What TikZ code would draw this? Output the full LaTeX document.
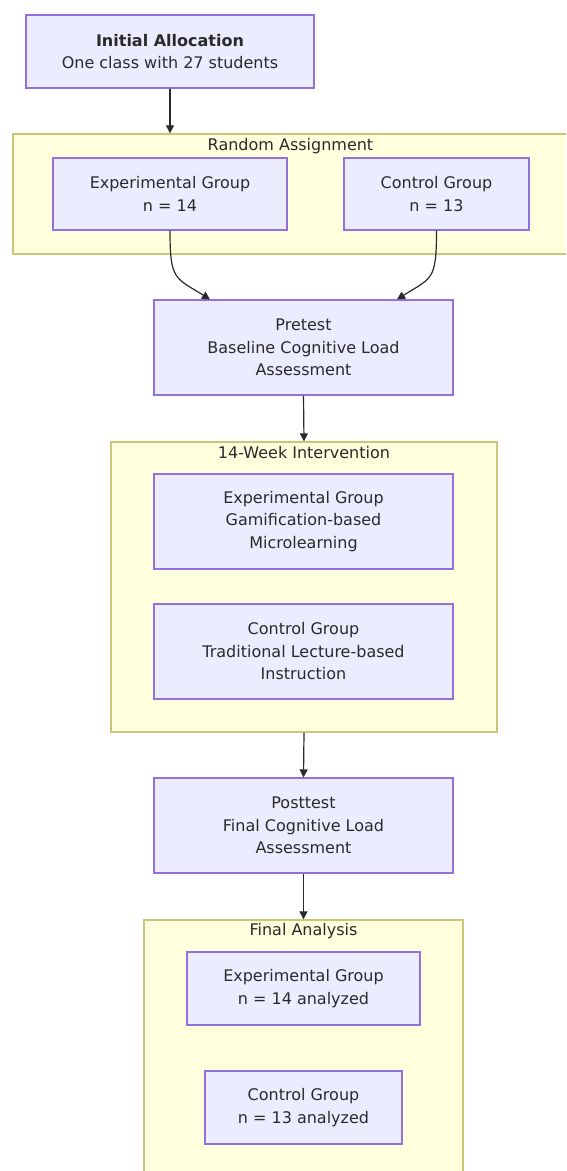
\documentclass[tikz,border=0pt]{standalone}
\usepackage{fontspec}
\setmainfont{DejaVu Sans}
\usetikzlibrary{arrows.meta}
\definecolor{boxfill}{HTML}{ECECFF}
\definecolor{boxline}{HTML}{9370DB}
\definecolor{grpfill}{HTML}{FFFFDE}
\definecolor{grpline}{HTML}{C8C878}
\definecolor{ink}{HTML}{2A2A2A}
\tikzset{
  stepbox/.style={draw=boxline, fill=boxfill, line width=1.2pt, align=center,
    text=ink, font=\fontsize{16}{22.5}\selectfont, inner sep=0pt},
  grp/.style={draw=grpline, fill=grpfill, line width=1.4pt, inner sep=0pt},
  grptitle/.style={text=ink, font=\fontsize{16}{20}\selectfont, inner sep=0pt},
  flow/.style={draw=ink, line width=1.2pt, -{Triangle[length=8pt,width=8pt]}}
}
\begin{document}
\begin{tikzpicture}[x=1pt,y=-1pt]
            \clip (0,0) rectangle (566,1171);
            \fill[white] (0,0) rectangle (566,1171);
            % groups
            \node[grp, minimum width=555pt, minimum height=120pt] (ra) at (290.5,194) {};
            \node[grptitle] (raT) at (290.5,146) {Random Assignment};
            \node[grp, minimum width=386pt, minimum height=290pt] (iv) at (304,587) {};
            \node[grptitle] (ivT) at (304,453) {14-Week Intervention};
            \node[grp, minimum width=319pt, minimum height=270pt] (fa) at (303.5,1055) {};
            \node[grptitle] (faT) at (303.5,931) {Final Analysis};
            % boxes
            \node[stepbox, minimum width=288pt, minimum height=73pt] (init) at (170,51.5) {\textbf{Initial Allocation}\\One class with 27 students};
            \node[stepbox, minimum width=234pt, minimum height=72pt] (expA) at (170,194) {Experimental Group\\n = 14};
            \node[stepbox, minimum width=185pt, minimum height=72pt] (ctlA) at (436.5,194) {Control Group\\n = 13};
            \node[stepbox, minimum width=299pt, minimum height=95pt] (pre) at (303.5,347.5) {Pretest\\Baseline Cognitive Load\\Assessment};
            \node[stepbox, minimum width=299pt, minimum height=95pt] (expB) at (303.5,521.5) {Experimental Group\\Gamification-based\\Microlearning};
            \node[stepbox, minimum width=299pt, minimum height=95pt] (ctlB) at (303.5,651.5) {Control Group\\Traditional Lecture-based\\Instruction};
            \node[stepbox, minimum width=299pt, minimum height=95pt] (post) at (303.5,825.5) {Posttest\\Final Cognitive Load\\Assessment};
            \node[stepbox, minimum width=233pt, minimum height=73pt] (expC) at (303.5,988.5) {Experimental Group\\n = 14 analyzed};
            \node[stepbox, minimum width=197pt, minimum height=73pt] (ctlC) at (303.5,1107.5) {Control Group\\n = 13 analyzed};
            % connectors
            \draw[flow] (init.south) -- (init.south |- ra.north);
            \draw[flow] (expA.south) .. controls +(0,50) and +(-35,-22) .. ([xshift=-93.5pt]pre.north);
            \draw[flow] (ctlA.south) .. controls +(0,50) and +(35,-22) .. ([xshift=93.5pt]pre.north);
            \draw[flow] (pre.south) -- (iv.north);
            \draw[flow] (iv.south) -- (post.north);
            \draw[flow] (post.south) -- (fa.north);
        \end{tikzpicture}
\end{document}
